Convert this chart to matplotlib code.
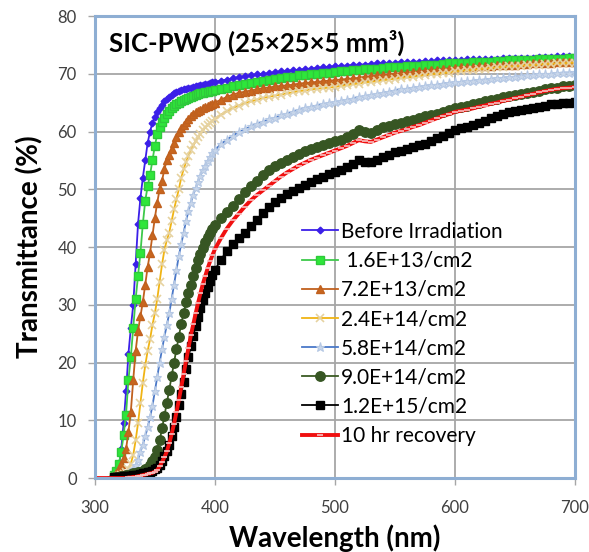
import matplotlib.pyplot as plt
import numpy as np

# wavelength grid (nm): coarse lead-in, 2 nm through the edge, 5 nm after
wl = [300, 305, 310] + list(range(316, 400, 2)) + list(range(400, 705, 5))

before = [0, 0, 0,
    0.5, 1, 2, 5, 9.5, 15, 21.5, 26, 30, 37, 44, 48.5, 52, 55, 58, 60, 61.5, 62.5, 63.3, 64,
    64.6, 65.2, 65.6, 66, 66.3, 66.6, 66.8, 67, 67.2, 67.3, 67.4, 67.5, 67.6, 67.7, 67.8, 67.9,
    68, 68.1, 68.2, 68.3, 68.4, 68.5,
    68.6, 68.8, 69.0, 69.2, 69.4, 69.6, 69.7, 69.9, 70.0, 70.1, 70.3, 70.4, 70.5, 70.6, 70.7,
    70.8, 70.9, 71.0, 71.1, 71.2, 71.3, 71.4, 71.4, 71.5, 71.6, 71.6, 71.7, 71.8, 71.8, 71.9,
    71.9, 72.0, 72.0, 72.1, 72.1, 72.2, 72.2, 72.3, 72.3, 72.4, 72.4, 72.4, 72.5, 72.5, 72.5,
    72.6, 72.6, 72.6, 72.7, 72.7, 72.7, 72.8, 72.8, 72.8, 72.9, 72.9, 72.9, 73.0, 73.0, 73.0, 73.1]

e13_16 = [0, 0, 0,
    0.6, 1.2, 2.5, 4.5, 7.5, 11, 17, 21, 26, 31, 35, 39, 44, 48, 50.5, 52.5, 55, 57.5, 59.5,
    60.8, 61.7, 62.4, 63, 63.5, 64, 64.4, 64.7, 65, 65.2, 65.4, 65.6, 65.8, 66, 66.2, 66.3,
    66.5, 66.6, 66.7, 66.8, 66.9, 67, 67.1,
    67.2, 67.4, 67.6, 67.8, 68.0, 68.2, 68.4, 68.6, 68.8, 68.9, 69.1, 69.2, 69.4, 69.5, 69.7,
    69.8, 69.9, 70.0, 70.1, 70.2, 70.3, 70.4, 70.5, 70.6, 70.7, 70.8, 70.8, 70.9, 71.0, 71.1,
    71.2, 71.2, 71.3, 71.4, 71.4, 71.5, 71.6, 71.6, 71.7, 71.8, 71.8, 71.9, 71.9, 72.0, 72.0,
    72.1, 72.1, 72.2, 72.2, 72.3, 72.3, 72.3, 72.4, 72.4, 72.5, 72.5, 72.5, 72.6, 72.6, 72.7, 72.7]

e13_72 = [0, 0, 0,
    0.4, 0.8, 1.5, 2.5, 3.5, 5, 8, 11.5, 17, 22, 25.5, 28, 30.5, 33.5, 36.5, 39, 42, 45, 47.7,
    50, 51.5, 53.5, 55, 56, 57, 58, 59, 60, 60.6, 61.2, 61.7, 62.2, 62.7, 63, 63.3, 63.5,
    63.7, 64, 64.2, 64.4, 64.6, 64.8,
    65.0, 65.5, 66.0, 66.4, 66.7, 66.9, 67.1, 67.3, 67.5, 67.6, 67.8, 67.9, 68.0, 68.1, 68.3,
    68.4, 68.5, 68.6, 68.7, 68.8, 68.9, 69.0, 69.1, 69.2, 69.3, 69.5, 69.6, 69.7, 69.8, 69.9,
    70.0, 70.1, 70.2, 70.3, 70.4, 70.5, 70.6, 70.7, 70.8, 70.9, 71.0, 71.1, 71.1, 71.2, 71.3,
    71.3, 71.4, 71.5, 71.5, 71.6, 71.6, 71.7, 71.7, 71.8, 71.8, 71.9, 71.9, 72.0, 72.0, 72.1, 72.1]

e14_24 = [0, 0, 0,
    0.1, 0.2, 0.3, 0.5, 0.7, 1, 1.5, 2.5, 4, 6.5, 9.5, 13, 16.5, 19.5, 22, 24, 26.5, 28.5, 31,
    34, 37, 39.5, 41.2, 42.5, 44.5, 46.5, 48.3, 50, 52, 53.5, 54.7, 55.8, 56.8, 57.6, 58.3,
    59, 59.6, 60.2, 60.7, 61.1, 61.5, 61.9,
    62.2, 62.9, 63.5, 64.1, 64.5, 64.9, 65.2, 65.5, 65.8, 66.0, 66.2, 66.4, 66.6, 66.8, 67.0,
    67.1, 67.3, 67.4, 67.5, 67.6, 67.7, 67.9, 68.0, 68.2, 68.3, 68.5, 68.6, 68.7, 68.9, 69.0,
    69.1, 69.3, 69.4, 69.5, 69.6, 69.8, 69.9, 70.0, 70.1, 70.2, 70.4, 70.5, 70.6, 70.7, 70.8,
    70.9, 71.0, 71.1, 71.2, 71.3, 71.3, 71.4, 71.5, 71.5, 71.6, 71.7, 71.7, 71.8, 71.8, 71.9, 71.9]

e14_58 = [0, 0, 0,
    0, 0, 0.1, 0.2, 0.3, 0.5, 0.7, 1, 1.5, 2.2, 3.2, 4.5, 5.8, 7.2, 8.8, 10.5, 12.5, 15, 17.5,
    20, 22.3, 24.5, 26.5, 28.5, 31, 33.5, 36, 38.5, 40.5, 42.5, 44.5, 46.2, 47.7, 49, 50.2,
    51.3, 52.3, 53.3, 54.1, 54.9, 55.6, 56.2,
    56.8, 57.8, 58.6, 59.3, 59.9, 60.4, 60.9, 61.3, 61.7, 62.1, 62.4, 62.8, 63.1, 63.4, 63.7,
    64.0, 64.3, 64.5, 64.7, 64.9, 65.1, 65.3, 65.5, 65.7, 65.9, 66.1, 66.3, 66.5, 66.7, 66.9,
    67.1, 67.3, 67.4, 67.6, 67.7, 67.9, 68.0, 68.1, 68.3, 68.4, 68.5, 68.6, 68.7, 68.8, 68.9,
    69.0, 69.1, 69.2, 69.3, 69.4, 69.5, 69.6, 69.7, 69.8, 69.9, 69.9, 70.0, 70.1, 70.2, 70.2, 70.3]

e14_90 = [0, 0, 0,
    0, 0.1, 0.2, 0.3, 0.4, 0.5, 0.6, 0.7, 0.8, 0.9, 1, 1.1, 1.3, 1.5, 1.8, 2.3, 2.9, 3.6, 4.8,
    6.5, 8.6, 10.8, 13, 15.3, 17.6, 20, 22.3, 24.5, 26.7, 28.6, 30.4, 32, 33.5, 35, 36.4,
    37.7, 38.8, 39.8, 40.8, 41.7, 42.5, 43.2,
    43.8, 45.0, 46.1, 47.1, 48.3, 49.5, 50.6, 51.5, 52.5, 53.3, 54.0, 54.5, 55.0, 55.6, 56.1,
    56.6, 57.0, 57.4, 57.7, 58.0, 58.3, 58.6, 59.0, 59.6, 60.2, 60.0, 59.8, 60.3, 60.7, 61.0,
    61.3, 61.5, 61.8, 62.0, 62.3, 62.6, 62.8, 63.1, 63.4, 63.7, 64.0, 64.3, 64.5, 64.8, 65.0,
    65.2, 65.5, 65.7, 65.9, 66.1, 66.3, 66.5, 66.7, 66.9, 67.1, 67.3, 67.5, 67.6, 67.8, 67.9, 68.0]

e15_12 = [0, 0, 0,
    0.1, 0.1, 0.2, 0.2, 0.3, 0.3, 0.4, 0.4, 0.5, 0.5, 0.6, 0.7, 0.8, 0.9, 1, 1.1, 1.3, 1.5, 1.8,
    2.3, 3, 3.8, 4.7, 5.8, 7.2, 8.8, 10.6, 12.6, 14.6, 16.7, 18.8, 20.9, 22.8, 24.6, 26.3,
    27.9, 29.4, 30.8, 32, 33.1, 34.1, 35.1,
    36.0, 37.8, 39.3, 40.5, 41.5, 42.5, 43.6, 44.7, 45.9, 47.0, 47.8, 48.5, 49.1, 49.7, 50.3,
    50.8, 51.3, 51.8, 52.2, 52.6, 53.0, 53.4, 53.8, 54.4, 55.0, 54.8, 54.7, 55.1, 55.6, 56.0,
    56.4, 56.7, 57.0, 57.3, 57.6, 57.9, 58.3, 58.8, 59.3, 59.8, 60.3, 60.6, 60.8, 61.1, 61.4,
    61.8, 62.3, 62.7, 63.0, 63.3, 63.5, 63.7, 63.9, 64.1, 64.3, 64.5, 64.7, 64.8, 64.9, 65.0, 65.1]

recovery = [0, 0, 0,
    0, 0, 0, 0, 0, 0, 0.1, 0.1, 0.2, 0.2, 0.3, 0.4, 0.5, 0.6, 0.7, 0.8, 0.9, 1.1, 1.4,
    2, 2.8, 3.6, 4.6, 6, 7.6, 9.4, 11.4, 13.5, 15.7, 18, 20.3, 22.5, 24.7, 26.6, 28.5,
    30.3, 32, 33.6, 35, 36.3, 37.5, 38.6,
    39.6, 41.5, 43.2, 44.6, 45.8, 47.0, 48.1, 49.0, 49.8, 50.6, 51.4, 52.2, 52.9, 53.5, 54.1,
    54.6, 55.1, 55.5, 55.9, 56.3, 56.7, 57.1, 57.5, 58.0, 58.5, 58.3, 58.2, 58.6, 59.0, 59.4,
    59.8, 60.1, 60.4, 60.8, 61.1, 61.5, 61.9, 62.3, 62.7, 63.0, 63.4, 63.6, 63.8, 64.0, 64.3,
    64.5, 64.8, 65.0, 65.3, 65.5, 65.8, 66.0, 66.3, 66.5, 66.8, 67.0, 67.2, 67.4, 67.5, 67.6, 67.7]

labels = ['Before Irradiation', ' 1.6E+13/cm2', '7.2E+13/cm2', '2.4E+14/cm2',
          '5.8E+14/cm2', '9.0E+14/cm2', '1.2E+15/cm2', '10 hr recovery']

styles = [
    dict(color='#3B1FE8', marker='D', ms=3.4, mfc='#3B1FE8', mec='#3B1FE8'),
    dict(color='#3DC94A', marker='s', ms=5.2, mfc='#2EE63A', mec='#2EC93A'),
    dict(color='#C0601E', marker='^', ms=5.5, mfc='#C8661E', mec='#C0601E'),
    dict(color='#F0B414', marker='x', ms=5.5, mfc='#E8D7A8', mec='#E6D2A0', mew=1.2),
    dict(color='#4A78C8', marker='*', ms=6.5, mfc='#C8D6EA', mec='#B5C8E4', mew=0.8),
    dict(color='#3A5A22', marker='o', ms=6.8, mfc='#375623', mec='#375623'),
    dict(color='#000000', marker='s', ms=5.5, mfc='#000000', mec='#000000'),
    dict(color='#F01010', marker='_', ms=4, mfc='#F8B0B0', mec='#F8C0C0', mew=1.2, lw=2.8),
]

series = [before, e13_16, e13_72, e14_24, e14_58, e14_90, e15_12, recovery]

fig = plt.figure(figsize=(5.89, 5.52), dpi=100)
ax = fig.add_axes([0.161, 0.134, 0.815, 0.837])

for y, lab, st in zip(series, labels, styles):
    st = dict(st)
    lw = st.pop('lw', 1.3)
    ax.plot(wl, y, label=lab, lw=lw, markevery=slice(3, None), **st)

ax.set_xlim(300, 700)
ax.set_ylim(0, 80)
ax.set_xticks(range(300, 701, 100))
ax.set_yticks(range(0, 81, 10))
ax.grid(True, color='#A6A6A6', lw=1.3)
ax.set_axisbelow(True)
for s in ax.spines.values():
    s.set_color('#8EAED3')
    s.set_linewidth(2.2)
ax.tick_params(length=5, width=1, color='#A6A6A6', labelsize=12, labelcolor='#404040')
ax.tick_params(axis='x', pad=11)
ax.tick_params(axis='y', pad=8)
for lab in ax.get_xticklabels() + ax.get_yticklabels():
    lab.set_family('Lato')

ax.set_xlabel('Wavelength (nm)', fontsize=20, fontweight='bold', family='Lato', labelpad=6)
ax.set_ylabel('Transmittance (%)', fontsize=20, fontweight='bold', family='Lato', labelpad=10)

ax.text(0.03, 0.97, 'SIC-PWO (25×25×5 mm³)', transform=ax.transAxes, ha='left', va='top',
        fontsize=18.5, fontweight='bold', family='Lato')

leg = ax.legend(loc='upper left', bbox_to_anchor=(0.415, 0.573), frameon=False,
                prop={'family': 'Lato', 'size': 15}, handlelength=1.7, handletextpad=0.15,
                labelspacing=0.44, borderaxespad=0)

fig.savefig('out.png', dpi=100)
